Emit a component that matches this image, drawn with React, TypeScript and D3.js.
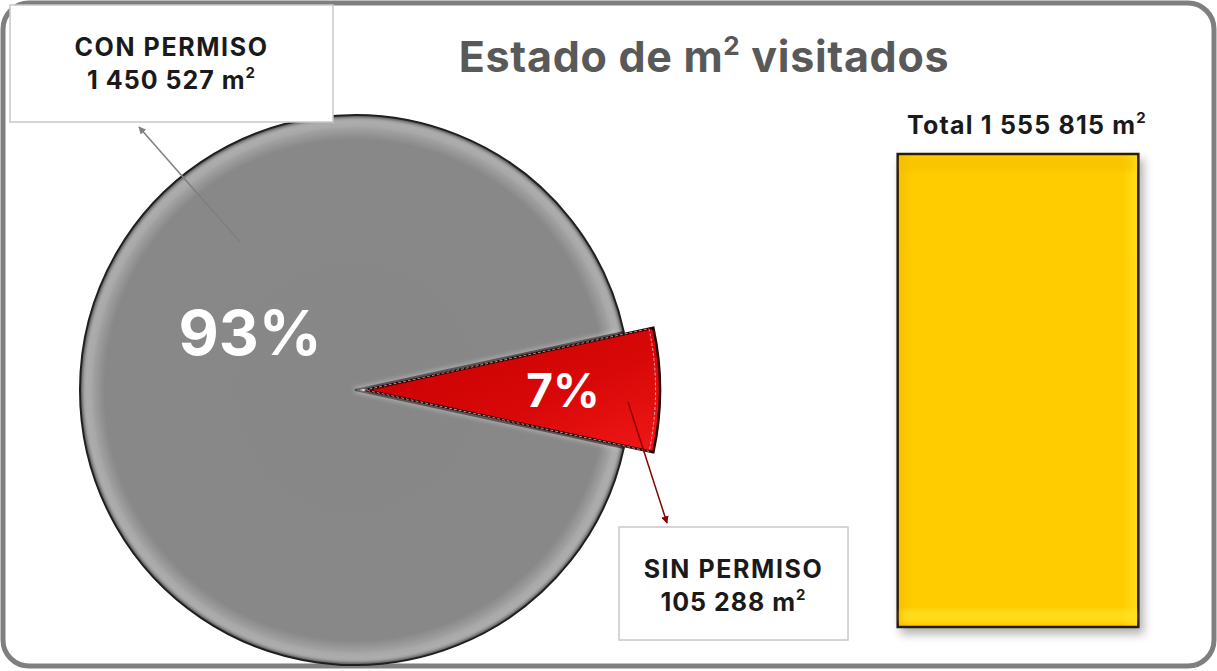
import React, { useEffect, useRef } from "react";
import * as d3 from "d3";

// chart data
const categories = ["CON PERMISO", "SIN PERMISO"];
const areas = [1450527, 105288];
const total = 1555815;
const totalLabel = "Total";
const title = "Estado de m";

const W = 1217;
const H = 671;

// "1 450 527" style thousands
const fmt = (v: number) => d3.format(",d")(v).replace(/,/g, " ");

export default function App() {
  const ref = useRef<SVGSVGElement>(null);

  useEffect(() => {
    const svg = d3.select(ref.current);
    svg.selectAll("*").remove();
    svg.attr("width", W).attr("height", H).style("font-family", "Inter, 'Liberation Sans', sans-serif");

    const defs = svg.append("defs");

    const r = 275;
    const grayGrad = defs.append("radialGradient").attr("id", "grayGrad")
      .attr("gradientUnits", "userSpaceOnUse").attr("cx", 0).attr("cy", 0).attr("r", r);
    grayGrad.append("stop").attr("offset", "0%").attr("stop-color", "#878787");
    grayGrad.append("stop").attr("offset", "91%").attr("stop-color", "#888888");
    grayGrad.append("stop").attr("offset", "96%").attr("stop-color", "#a6a6a6");
    grayGrad.append("stop").attr("offset", "98.5%").attr("stop-color", "#8c8c8c");
    grayGrad.append("stop").attr("offset", "100%").attr("stop-color", "#4a4a4a");

    const redGrad = defs.append("linearGradient").attr("id", "redGrad")
      .attr("x1", "0").attr("y1", "0").attr("x2", "1").attr("y2", "1");
    redGrad.append("stop").attr("offset", "0%").attr("stop-color", "#c40000");
    redGrad.append("stop").attr("offset", "60%").attr("stop-color", "#d90808");
    redGrad.append("stop").attr("offset", "100%").attr("stop-color", "#f01818");

    const barGrad = defs.append("linearGradient").attr("id", "barGrad")
      .attr("x1", "0").attr("y1", "0").attr("x2", "1").attr("y2", "0");
    barGrad.append("stop").attr("offset", "0%").attr("stop-color", "#f5bf00");
    barGrad.append("stop").attr("offset", "6%").attr("stop-color", "#ffcc00");
    barGrad.append("stop").attr("offset", "93%").attr("stop-color", "#ffcc00");
    barGrad.append("stop").attr("offset", "100%").attr("stop-color", "#ffdf1a");

    const shadow = defs.append("filter").attr("id", "shadow")
      .attr("x", "-20%").attr("y", "-20%").attr("width", "150%").attr("height", "150%");
    shadow.append("feDropShadow").attr("dx", 4).attr("dy", 6).attr("stdDeviation", 5)
      .attr("flood-color", "#000").attr("flood-opacity", 0.3);

    const blur = defs.append("filter").attr("id", "soft");
    blur.append("feGaussianBlur").attr("stdDeviation", 2.5);

    const mk = (id: string, color: string) => {
      defs.append("marker").attr("id", id).attr("viewBox", "0 0 10 10")
        .attr("refX", 9).attr("refY", 5).attr("markerWidth", 5).attr("markerHeight", 5)
        .attr("orient", "auto")
        .append("path").attr("d", "M0,0 L10,5 L0,10 z").attr("fill", color);
    };
    mk("arrGray", "#7f7f7f");
    mk("arrRed", "#8b0000");

    // frame
    svg.append("rect").attr("x", 3).attr("y", 3).attr("width", W - 6).attr("height", H - 8)
      .attr("rx", 26).attr("fill", "#fff").attr("stroke", "#7f7f7f").attr("stroke-width", 5);

    // title
    const t = svg.append("text").attr("x", 704).attr("y", 72).attr("text-anchor", "middle")
      .attr("fill", "#595959").attr("font-weight", 700).attr("font-size", 43)
      .attr("letter-spacing", 0.7);
    t.append("tspan").text(title);
    t.append("tspan").attr("dy", -17).attr("font-size", 26).text("2");
    t.append("tspan").attr("dy", 17).text(" visitados");

    // pie
    const cx = 355, cy = 390;
    const pie = d3.pie<number>().sort(null)
      .startAngle(Math.PI / 2 + Math.PI * 2 * (areas[1] / total) / 2);
    pie.endAngle(pie.startAngle()() as number + Math.PI * 2);
    const slices = pie(areas);
    const arc = d3.arc<d3.PieArcDatum<number>>().innerRadius(0).outerRadius(r);
    const arcRed = d3.arc<d3.PieArcDatum<number>>().innerRadius(0).outerRadius(r + 20);

    const g = svg.append("g").attr("transform", `translate(${cx},${cy})`);

    // gray slice
    g.append("path").attr("d", arc(slices[0])!).attr("fill", "url(#grayGrad)")
      .attr("stroke", "#1a1a1a").attr("stroke-width", 2);
    // soft highlight along the cut edges
    const edge = d3.arc<d3.PieArcDatum<number>>().innerRadius(0).outerRadius(r - 6);
    g.append("path").attr("d", edge(slices[0])!).attr("fill", "none")
      .attr("stroke", "#e0e0e0").attr("stroke-width", 4).attr("filter", "url(#soft)")
      .attr("opacity", 0.55);

    // red slice exploded outward
    const mid = (slices[1].startAngle + slices[1].endAngle) / 2;
    const off = 10;
    const red = g.append("g")
      .attr("transform", `translate(${Math.sin(mid) * off},${-Math.cos(mid) * off})`);
    red.append("path").attr("d", arcRed(slices[1])!).attr("fill", "url(#redGrad)")
      .attr("stroke", "#2a0000").attr("stroke-width", 2.5);
    red.append("path").attr("d", arcRed(slices[1])!).attr("fill", "none")
      .attr("stroke", "#ffffff").attr("stroke-width", 1).attr("stroke-dasharray", "3 2")
      .attr("opacity", 0.6).attr("transform", "scale(0.985)");

    // percentages
    const pct = d3.format(".0%");
    g.append("text").attr("x", -105).attr("y", -35).attr("text-anchor", "middle")
      .attr("fill", "#fff").attr("font-weight", 700).attr("font-size", 62)
      .text(pct(areas[0] / total));
    g.append("text").attr("x", 208).attr("y", 17).attr("text-anchor", "middle")
      .attr("fill", "#fff").attr("font-weight", 700).attr("font-size", 46)
      .text(pct(areas[1] / total));

    // leader arrows
    svg.append("line").attr("x1", 240).attr("y1", 242).attr("x2", 139).attr("y2", 127)
      .attr("stroke", "#7f7f7f").attr("stroke-width", 1.5).attr("marker-end", "url(#arrGray)");
    svg.append("line").attr("x1", 628).attr("y1", 402).attr("x2", 667).attr("y2", 523)
      .attr("stroke", "#8b0000").attr("stroke-width", 1.5).attr("marker-end", "url(#arrRed)");

    // label boxes
    const boxes = [
      { x: 10, y: 5, w: 323, h: 117 },
      { x: 619, y: 527, w: 229, h: 113 },
    ];
    boxes.forEach((b, i) => {
      svg.append("rect").attr("x", b.x).attr("y", b.y).attr("width", b.w).attr("height", b.h)
        .attr("fill", "#fff").attr("stroke", "#c8c8c8").attr("stroke-width", 1.5);
      const lx = b.x + b.w / 2;
      svg.append("text").attr("x", lx).attr("y", b.y + 51).attr("text-anchor", "middle")
        .attr("font-weight", 700).attr("font-size", 25).attr("letter-spacing", 1.6)
        .attr("fill", "#1a1a1a")
        .text(categories[i]);
      const v = svg.append("text").attr("x", lx).attr("y", b.y + 84).attr("text-anchor", "middle")
        .attr("font-weight", 700).attr("font-size", 25).attr("letter-spacing", 1)
        .attr("fill", "#1a1a1a");
      v.append("tspan").text(fmt(areas[i]) + " m");
      v.append("tspan").attr("dy", -11).attr("font-size", 15).text("2");
    });

    // total bar
    const x = d3.scaleBand().domain([totalLabel]).range([885, 1151]).padding(0.05);
    const y = d3.scaleLinear().domain([0, total]).range([627, 154]);
    svg.append("rect").attr("x", x(totalLabel)!).attr("y", y(total))
      .attr("width", x.bandwidth()).attr("height", y(0) - y(total))
      .attr("fill", "url(#barGrad)").attr("stroke", "#2b1d0e").attr("stroke-width", 2.5)
      .attr("filter", "url(#shadow)");
    // bevel top and bottom
    svg.append("rect").attr("x", x(totalLabel)! + 3).attr("y", y(total) + 3)
      .attr("width", x.bandwidth() - 6).attr("height", 14).attr("fill", "#f0b800").attr("opacity", 0.35)
      .attr("filter", "url(#soft)");
    svg.append("rect").attr("x", x(totalLabel)! + 3).attr("y", y(0) - 17)
      .attr("width", x.bandwidth() - 6).attr("height", 12).attr("fill", "#ffe62a").attr("opacity", 0.6)
      .attr("filter", "url(#soft)");

    const tl = svg.append("text").attr("x", x(totalLabel)! + x.bandwidth() / 2 + 9).attr("y", y(total) - 20)
      .attr("text-anchor", "middle").attr("font-weight", 700).attr("font-size", 25)
      .attr("letter-spacing", 1.2).attr("fill", "#1a1a1a");
    tl.append("tspan").text(`${totalLabel} ${fmt(total)} m`);
    tl.append("tspan").attr("dy", -11).attr("font-size", 15).text("2");
  }, []);

  return (
    <div style={{ position: "absolute", left: 0, top: 0 }}>
      <svg ref={ref}></svg>
    </div>
  );
}
